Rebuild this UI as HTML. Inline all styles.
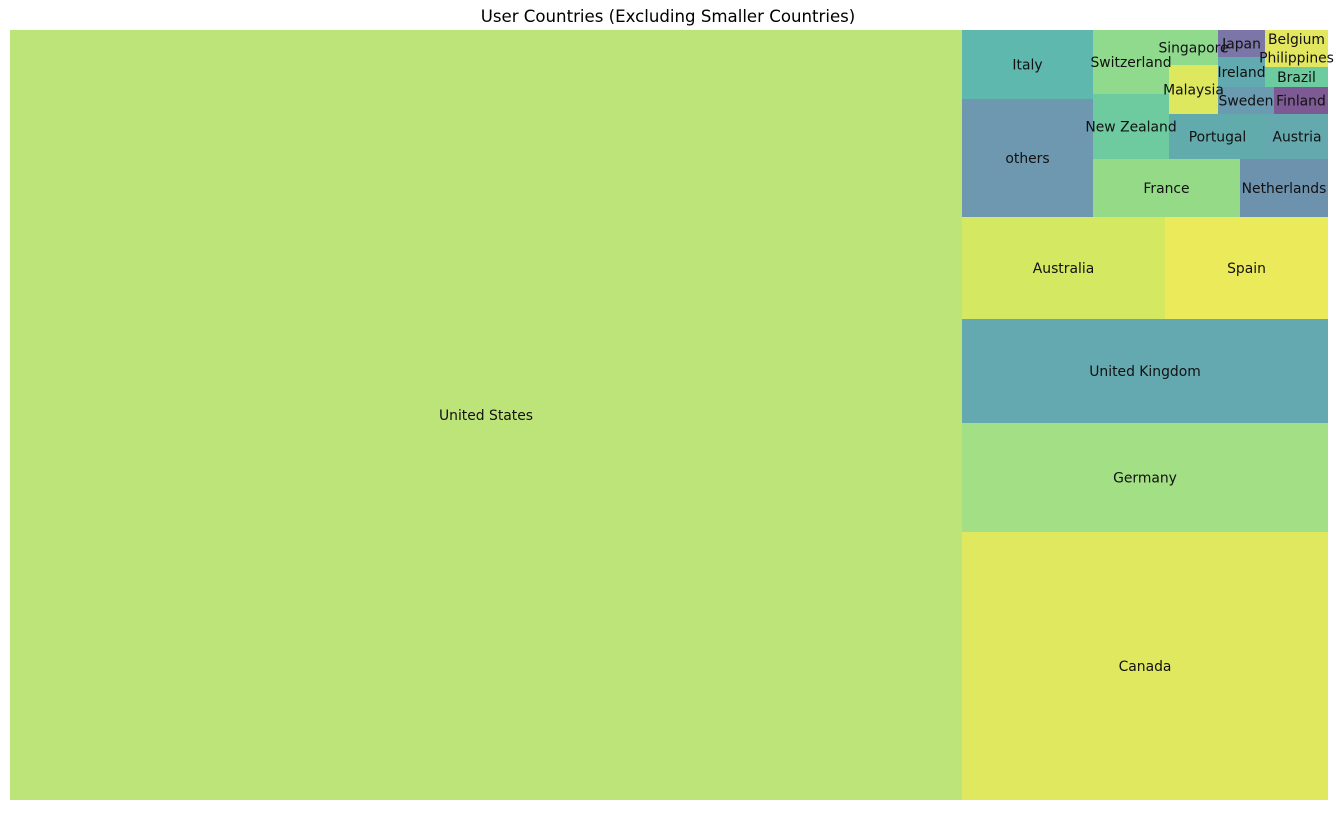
<!DOCTYPE html>
<html><head><meta charset="utf-8"><style>
body{margin:0;background:#fff;width:1343px;height:810px;overflow:hidden;font-family:"DejaVu Sans","Liberation Sans",sans-serif}
svg text{font-family:"DejaVu Sans","Liberation Sans",sans-serif}
</style></head><body>
<svg id="chart" width="1343" height="810" xmlns="http://www.w3.org/2000/svg">
<text x="668" y="22" text-anchor="middle" font-size="16.6" fill="#000">User Countries (Excluding Smaller Countries)</text>
<g id="cells"></g>
</svg>
<script>
const countries=["United States","Canada","Germany","United Kingdom","Australia","Spain","others","Italy","France","Netherlands","New Zealand","Switzerland","Portugal","Austria","Malaysia","Singapore","Sweden","Finland","Ireland","Japan","Brazil","Philippines","Belgium"];
const users=[733040,98088,39894,38064,20706,16626,15458,9039,8526,5104,4940,4864,4365,2790,2401,1715,1512,1458,1410,1269,1260,1197,1134];
const colors=["#bce479","#e0e85f","#a3df85","#65a9b0","#d5e862","#ebea5a","#6d98b0","#5fb8ae","#95db87","#6c92ad","#6ecba0","#8fda8c","#62abac","#63a9ae","#dde85f","#8fda8c","#6b9bb0","#7d5a93","#61aaaf","#7a76a8","#6ccca0","#e3e75f","#e3e75f"];
const groupSizes=[1,1,1,1,2,2,2,2,2,2,2,2,3];
const groupDirs=["col","row","row","row","row","col","row","col","row","col","row","col","col"];
const PX=10,PY=30,PW=1318,PH=770;
function layoutcol(s,x,y,dx,dy){const c=s.reduce((a,b)=>a+b,0),w=c/dy;let r=[];for(const v of s){r.push({x:x,y:y,dx:w,dy:v/w});y+=v/w;}return r;}
function layoutrow(s,x,y,dx,dy){const c=s.reduce((a,b)=>a+b,0),h=c/dx;let r=[];for(const v of s){r.push({x:x,y:y,dx:v/h,dy:h});x+=v/h;}return r;}
const total=users.reduce((a,b)=>a+b,0);
const norm=users.map(v=>v*PW*PH/total);
let rects=[],x=0,y=0,dx=PW,dy=PH,k=0;
groupSizes.forEach((n,gi)=>{
  const s=norm.slice(k,k+n);k+=n;
  const c=s.reduce((a,b)=>a+b,0);
  if(groupDirs[gi]==="col"){rects=rects.concat(layoutcol(s,x,y,dx,dy));const w=c/dy;x+=w;dx-=w;}
  else{rects=rects.concat(layoutrow(s,x,y,dx,dy));const h=c/dx;y+=h;dy-=h;}
});
const g=document.getElementById('cells');
const NS="http://www.w3.org/2000/svg";
rects.forEach((r,i)=>{
  const px=PX+r.x, py=PY+PH-(r.y+r.dy);
  const rc=document.createElementNS(NS,'rect');
  rc.setAttribute('x',px);rc.setAttribute('y',py);rc.setAttribute('width',r.dx);rc.setAttribute('height',r.dy);rc.setAttribute('fill',colors[i]);
  
  
  g.appendChild(rc);
});
rects.forEach((r,i)=>{
  const px=PX+r.x, py=PY+PH-(r.y+r.dy);
  const t=document.createElementNS(NS,'text');
  t.setAttribute('x',px+r.dx/2);t.setAttribute('y',py+r.dy/2+5);t.setAttribute('text-anchor','middle');t.setAttribute('font-size','13.9');t.setAttribute('fill','#111');
  t.textContent=countries[i];
  
  
  g.appendChild(t);
});
</script>
</body></html>
